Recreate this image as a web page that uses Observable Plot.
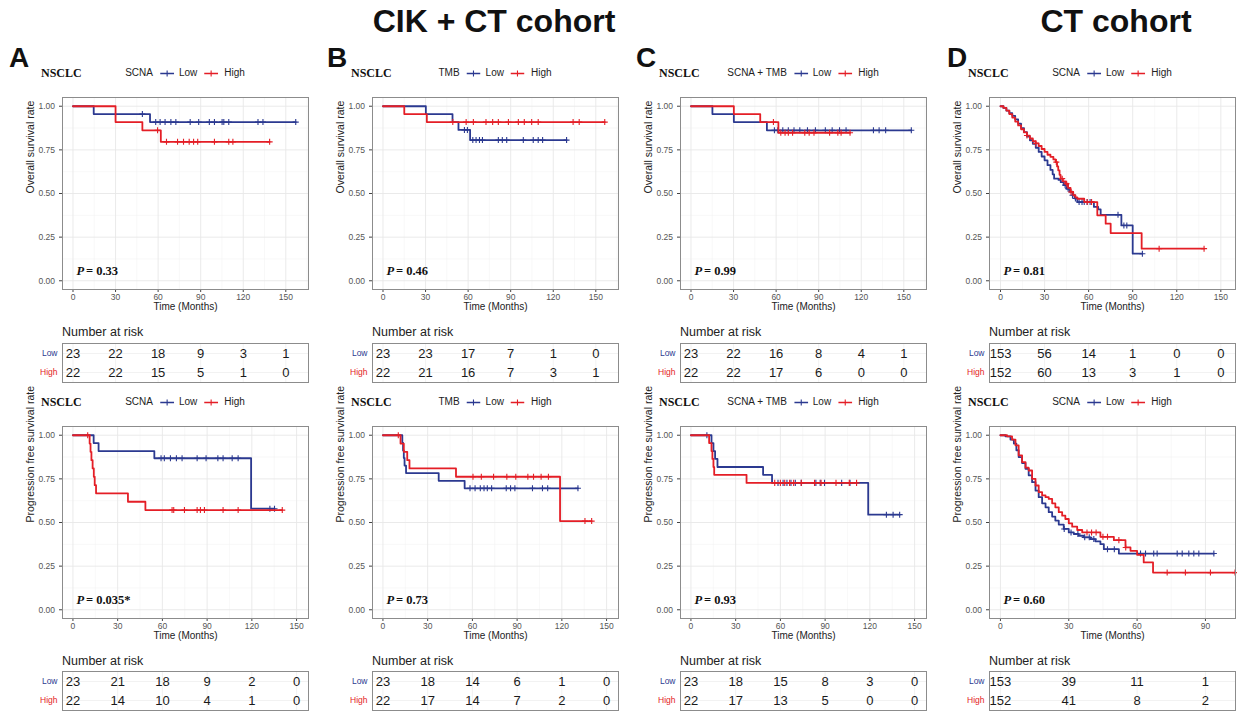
<!DOCTYPE html>
<html>
<head>
<meta charset="utf-8">
<script src="https://cdn.jsdelivr.net/npm/d3@7"></script>
<script src="https://cdn.jsdelivr.net/npm/@observablehq/plot@0.6"></script>
<style>
  html,body{margin:0;padding:0;background:#fff;}
  #root{position:relative;width:1237px;height:711px;overflow:hidden;background:#fff;font-family:"Liberation Sans",Arial,Helvetica,sans-serif;color:#1a1a1a;}
  .abs{position:absolute;white-space:nowrap;line-height:1;}
  .abs svg{display:block;}
</style>
</head>
<body>
<div id="root"></div>
<script>
// ---------------- DATA ----------------
const cohortTitles = ["CIK + CT cohort", "CT cohort"];
const panelLetters = ["A", "B", "C", "D"];
const diseaseLabel = "NSCLC";
const groupNames = ["SCNA", "TMB", "SCNA + TMB", "SCNA"];
const levelNames = ["Low", "High"];
const yTitles = ["Overall survival rate", "Progression free survival rate"];
const xTitle = "Time (Months)";
const riskTitle = "Number at risk";
const pOS = ["0.33", "0.46", "0.99", "0.81"];
const pPFS = ["0.035*", "0.73", "0.93", "0.60"];
const yTickValues = [0, 0.25, 0.5, 0.75, 1];
const xTickValues = [0, 30, 60, 90, 120, 150];
const xTickValuesShort = [0, 30, 60, 90];

// Panel A – overall survival (SCNA)
const A_os_low = [[0,1],[14.6,0.955],[54.3,0.909],[157,0.909]];
const A_os_low_cens = [48.9,58.3,61.4,64.9,69,72.5,82.6,88.6,96.1,99.7,105.1,106.3,109.8,130.4,133.9,157];
const A_os_high = [[0,1],[30,0.909],[48.9,0.862],[61.9,0.796],[138.6,0.796]];
const A_os_high_cens = [59.6,65.9,73.7,77.9,81.9,85,87.9,99.7,109.8,112.7,138.6];
const A_os_risk_low = [23,22,18,9,3,1];
const A_os_risk_high = [22,22,15,5,1,0];

// Panel B – overall survival (TMB)
const B_os_low = [[0,1],[30.2,0.955],[49,0.909],[53.2,0.864],[61.4,0.806],[129.4,0.806]];
const B_os_low_cens = [57.4,59.5,63.3,65.6,68,70.1,81.3,84.1,87.2,98.9,105.9,109.4,112.5,129.4];
const B_os_high = [[0,1],[15,0.955],[30.9,0.909],[156.3,0.909]];
const B_os_high_cens = [49.2,58.6,63.7,72.6,77.3,81.3,88.4,95.4,99.6,104.8,109.4,134,138.3,156.3];
const B_os_risk_low = [23,23,17,7,1,0];
const B_os_risk_high = [22,21,16,7,3,1];

// Panel C – overall survival (SCNA + TMB)
const C_os_low = [[0,1],[15.1,0.955],[30.2,0.909],[53.5,0.862],[155.3,0.862]];
const C_os_low_cens = [58.8,61.2,64.7,68.6,72.6,76.7,82.1,87.7,94.7,99.5,104.7,109.3,128.6,132.6,137.2,155.3];
const C_os_high = [[0,1],[30.2,0.955],[48.8,0.909],[61.6,0.848],[112.1,0.848]];
const C_os_high_cens = [58.1,63.3,66.3,68.6,71.6,80.2,83.3,86.7,97.7,103.5,105.8,112.1];
const C_os_risk_low = [23,22,16,8,4,1];
const C_os_risk_high = [22,22,17,6,0,0];

// Panel D – overall survival (CT cohort, SCNA)
const D_os_low = [[0,1],[2,0.99],[4,0.975],[6,0.96],[8,0.945],[10,0.925],[12,0.9],[14,0.875],[16,0.852],[18,0.826],[20,0.805],[22,0.785],[24,0.762],[26,0.738],[28,0.712],[30,0.69],[32,0.662],[34,0.635],[35.5,0.61],[36.5,0.585],[39.5,0.578],[41,0.565],[43,0.548],[45,0.527],[47,0.51],[49,0.49],[50.5,0.472],[52.3,0.451],[63.6,0.423],[66.5,0.409],[68.2,0.378],[82.3,0.317],[90,0.155],[96.6,0.155]];
const D_os_low_cens = [44,46,49,51,53.5,55.5,57,59,61,80,84,86,96.6];
const D_os_high = [[0,1],[2,0.99],[4,0.975],[6,0.955],[8,0.935],[10,0.912],[12,0.89],[14,0.868],[16,0.85],[18,0.832],[20,0.815],[22,0.8],[24,0.787],[26,0.772],[28,0.755],[30,0.738],[32,0.722],[34,0.71],[36,0.695],[37.5,0.68],[38.5,0.655],[39.3,0.633],[40.2,0.607],[40.9,0.585],[42.5,0.57],[44.3,0.556],[46,0.532],[47.7,0.509],[49.5,0.49],[51,0.478],[52.3,0.47],[57,0.451],[65.9,0.375],[71.6,0.327],[75,0.273],[96.1,0.184],[138.6,0.184]];
const D_os_high_cens = [18,24,38,42,45,48,59,62,108,138.6];
const D_os_risk_low = [153,56,14,1,0,0];
const D_os_risk_high = [152,60,13,3,1,0];

// Panel A – progression free survival (SCNA)
const A_pfs_low = [[0,1],[13.9,0.955],[17.2,0.909],[54.6,0.868],[119.5,0.579],[135.2,0.579]];
const A_pfs_low_cens = [59.1,61.3,65.4,69.4,73.2,83.3,89.3,97.2,100.7,106.8,110.8,132.1,135.2];
const A_pfs_high = [[0,1],[11.2,0.952],[11.8,0.905],[12.4,0.857],[13.2,0.81],[14,0.762],[14.6,0.714],[15.5,0.667],[36.9,0.619],[48.6,0.571],[140.4,0.571]];
const A_pfs_high_cens = [9.9,66.5,67.6,74.8,83.3,85.5,88.2,100.7,110.8,140.4];
const A_pfs_risk_low = [23,21,18,9,2,0];
const A_pfs_risk_high = [22,14,10,4,1,0];

// Panel B – progression free survival (TMB)
const B_pfs_low = [[0,1],[13,0.957],[13.5,0.913],[14,0.87],[14.5,0.826],[15.5,0.783],[37.4,0.739],[54.8,0.696],[130.8,0.696]];
const B_pfs_low_cens = [58.4,61.8,65.3,67.8,70,72.9,82.7,85.6,88.5,100.3,107,110.5,130.8];
const B_pfs_high = [[0,1],[11.8,0.952],[14,0.905],[16.3,0.857],[17.8,0.81],[49,0.762],[118.8,0.508],[140,0.508]];
const B_pfs_high_cens = [10.3,60.4,66,74.2,83.1,89.1,97.2,101,106.1,111,135.5,140];
const B_pfs_risk_low = [23,18,14,6,1,0];
const B_pfs_risk_high = [22,17,14,7,2,0];

// Panel C – progression free survival (SCNA + TMB)
const C_pfs_low = [[0,1],[13.8,0.955],[15.1,0.909],[16.2,0.864],[17.8,0.818],[48.4,0.773],[54.4,0.727],[118.9,0.545],[140,0.545]];
const C_pfs_low_cens = [10.7,58.4,61.8,64.4,67.1,70,74,83.8,86.7,89.6,101.1,106.7,131.1,135.6,140];
const C_pfs_high = [[0,1],[12.2,0.955],[13.8,0.909],[14.4,0.864],[15.1,0.818],[15.6,0.773],[37.3,0.727],[111.1,0.727]];
const C_pfs_high_cens = [56.2,60,62.9,66.2,68.9,74,82.9,87.3,97.3,106.2,111.1];
const C_pfs_risk_low = [23,18,15,8,3,0];
const C_pfs_risk_high = [22,17,13,5,0,0];

// Panel D – progression free survival (CT cohort, SCNA)
const D_pfs_low = [[0,1],[2.2,0.994],[4.4,0.975],[5.9,0.952],[7,0.914],[8,0.875],[9.5,0.841],[11,0.808],[12.4,0.77],[13.9,0.731],[15.4,0.683],[16.8,0.645],[18.3,0.61],[19.8,0.587],[21.2,0.559],[22.7,0.534],[24.1,0.511],[25.6,0.488],[27.8,0.463],[30,0.443],[32.2,0.434],[34.4,0.424],[36.6,0.415],[39.5,0.405],[41.7,0.392],[43.9,0.376],[45.4,0.347],[52,0.322],[93.7,0.322]];
const D_pfs_low_cens = [28,31,34,37,39,41,47,50,61.5,63.7,67.3,68.8,77.6,79.8,82.7,84.9,87.1,93.7];
const D_pfs_high = [[0,1],[2.9,0.994],[5.1,0.975],[6.6,0.942],[8,0.885],[9.5,0.846],[11,0.814],[12.4,0.798],[13.9,0.75],[15.4,0.712],[16.8,0.674],[18.3,0.655],[19.8,0.645],[21.2,0.635],[22.7,0.61],[24.1,0.587],[25.6,0.559],[27.1,0.539],[28.5,0.52],[30,0.495],[31.5,0.476],[33.7,0.457],[35.9,0.443],[43.9,0.418],[49.8,0.399],[54.9,0.357],[57.1,0.338],[60,0.315],[62.9,0.271],[67,0.213],[103,0.213]];
const D_pfs_high_cens = [38,40,42,45,47,52,55,73.2,81.2,92.2,103];
const D_pfs_risk_low = [153,39,11,1];
const D_pfs_risk_high = [152,41,8,2];

// ---------------- LAYOUT / STYLE ----------------
const BLUE = "#2B3990";
const RED = "#E41E26";
const COL_X = [0, 310, 618, 927];
const LETTER_X = [9, 327, 636, 947];
const ROW_DY = [0, 329];

const panels = [
  {row:0,col:0,low:A_os_low,high:A_os_high,lowC:A_os_low_cens,highC:A_os_high_cens,rLow:A_os_risk_low,rHigh:A_os_risk_high,ticks:xTickValues,xDomain:[-7.4,166],p:pOS[0]},
  {row:0,col:1,low:B_os_low,high:B_os_high,lowC:B_os_low_cens,highC:B_os_high_cens,rLow:B_os_risk_low,rHigh:B_os_risk_high,ticks:xTickValues,xDomain:[-7.4,166],p:pOS[1]},
  {row:0,col:2,low:C_os_low,high:C_os_high,lowC:C_os_low_cens,highC:C_os_high_cens,rLow:C_os_risk_low,rHigh:C_os_risk_high,ticks:xTickValues,xDomain:[-7.4,166],p:pOS[2]},
  {row:0,col:3,low:D_os_low,high:D_os_high,lowC:D_os_low_cens,highC:D_os_high_cens,rLow:D_os_risk_low,rHigh:D_os_risk_high,ticks:xTickValues,xDomain:[-7.5,160],p:pOS[3]},
  {row:1,col:0,low:A_pfs_low,high:A_pfs_high,lowC:A_pfs_low_cens,highC:A_pfs_high_cens,rLow:A_pfs_risk_low,rHigh:A_pfs_risk_high,ticks:xTickValues,xDomain:[-7,158],p:pPFS[0]},
  {row:1,col:1,low:B_pfs_low,high:B_pfs_high,lowC:B_pfs_low_cens,highC:B_pfs_high_cens,rLow:B_pfs_risk_low,rHigh:B_pfs_risk_high,ticks:xTickValues,xDomain:[-7,158],p:pPFS[1]},
  {row:1,col:2,low:C_pfs_low,high:C_pfs_high,lowC:C_pfs_low_cens,highC:C_pfs_high_cens,rLow:C_pfs_risk_low,rHigh:C_pfs_risk_high,ticks:xTickValues,xDomain:[-7,158],p:pPFS[2]},
  {row:1,col:3,low:D_pfs_low,high:D_pfs_high,lowC:D_pfs_low_cens,highC:D_pfs_high_cens,rLow:D_pfs_risk_low,rHigh:D_pfs_risk_high,ticks:xTickValuesShort,xDomain:[-4.8,103.2],p:pPFS[3]}
];

const SANS = '"Liberation Sans", Arial, Helvetica, sans-serif';
const SERIF = '"Liberation Serif", "Times New Roman", serif';

const plusSymbol = {
  draw(ctx, size) {
    const r = Math.sqrt(size) / 2;
    ctx.moveTo(-r, 0); ctx.lineTo(r, 0);
    ctx.moveTo(0, -r); ctx.lineTo(0, r);
  }
};

function survAt(steps, t) {
  let s = 1;
  for (const [tt, v] of steps) if (tt <= t) s = v;
  return s;
}

function kmPlot(spec) {
  const [d0, d1] = spec.xDomain;
  const ticks = spec.ticks;
  const stepW = ticks[1] - ticks[0];
  const minorX = [];
  for (let v = ticks[0] - stepW / 2; v <= d1; v += stepW) if (v >= d0) minorX.push(v);
  const minorY = [0.125, 0.375, 0.625, 0.875];
  const rows = arr => arr.map(([t, s]) => ({t, s}));
  const cens = (steps, times) => times.map(t => ({t, s: survAt(steps, t)}));
  const pStyle = {frameAnchor: "bottom-left", dy: -15, textAnchor: "start", fontFamily: SERIF, fontWeight: "bold", fontSize: 12.5, fill: "#111"};
  return Plot.plot({
    width: 310, height: 235,
    marginLeft: 62, marginRight: 2, marginTop: 12, marginBottom: 31,
    x: {domain: spec.xDomain},
    y: {domain: [-0.05, 1.05]},
    style: {fontFamily: SANS, fontSize: "8.5px", background: "transparent", overflow: "visible"},
    marks: [
      Plot.ruleX(minorX, {stroke: "#f3f3f3", strokeWidth: 0.6}),
      Plot.ruleY(minorY, {stroke: "#f3f3f3", strokeWidth: 0.6}),
      Plot.ruleX(ticks, {stroke: "#e8e8e8", strokeWidth: 0.9}),
      Plot.ruleY(yTickValues, {stroke: "#e8e8e8", strokeWidth: 0.9}),
      Plot.axisY(yTickValues, {tickFormat: d3.format(".2f"), tickSize: 3, tickPadding: 4.5, fontSize: 8.5, fill: "#555", stroke: "#444", label: null}),
      Plot.axisX(ticks, {tickFormat: d => String(d), tickSize: 3, tickPadding: 1.5, fontSize: 8.5, fill: "#555", stroke: "#444", label: null}),
      Plot.line(rows(spec.low), {x: "t", y: "s", curve: "step-after", stroke: BLUE, strokeWidth: 1.8}),
      Plot.dot(cens(spec.low, spec.lowC), {x: "t", y: "s", symbol: plusSymbol, r: 3.4, stroke: BLUE, strokeWidth: 1.1, fill: "none"}),
      Plot.line(rows(spec.high), {x: "t", y: "s", curve: "step-after", stroke: RED, strokeWidth: 1.8}),
      Plot.dot(cens(spec.high, spec.highC), {x: "t", y: "s", symbol: plusSymbol, r: 3.4, stroke: RED, strokeWidth: 1.1, fill: "none"}),
      Plot.frame({stroke: "#8c8c8c", strokeWidth: 1}),
      Plot.text(["P"], {...pStyle, dx: 14, fontStyle: "italic"}),
      Plot.text(["= " + spec.p], {...pStyle, dx: 23.5}),
      Plot.text([yTitles[spec.row]], {frameAnchor: "left", dx: -32, rotate: -90, fontSize: 10.5, fill: "#222"}),
      Plot.text([xTitle], {frameAnchor: "bottom", dy: 20, fontSize: 10, fill: "#222"})
    ]
  });
}

function riskPlot(spec) {
  const isTop = spec.row === 0;
  const times = spec.ticks;
  const data = [];
  times.forEach((t, i) => {
    data.push({t, g: levelNames[0], n: spec.rLow[i]});
    data.push({t, g: levelNames[1], n: spec.rHigh[i]});
  });
  return Plot.plot({
    width: 310, height: isTop ? 45 : 42,
    marginLeft: 62, marginRight: 2, marginTop: isTop ? 3 : 2, marginBottom: isTop ? 3 : 1,
    x: {domain: spec.xDomain, axis: null},
    y: {domain: levelNames, type: "point", padding: 0.5, axis: null},
    style: {fontFamily: SANS, background: "transparent", overflow: "visible"},
    marks: [
      Plot.ruleX(times, {stroke: "#efefef", strokeWidth: 0.8}),
      Plot.ruleY(levelNames, {y: d => d, stroke: "#efefef", strokeWidth: 0.8}),
      Plot.text(data, {x: "t", y: "g", text: d => String(d.n), fontSize: 13, fill: "#1a1a1a"}),
      Plot.text([levelNames[0]], {y: d => d, frameAnchor: "left", dx: -5, textAnchor: "end", fill: BLUE, fontSize: 8.5}),
      Plot.text([levelNames[1]], {y: d => d, frameAnchor: "left", dx: -5, textAnchor: "end", fill: RED, fontSize: 8.5}),
      Plot.frame({stroke: "#8c8c8c", strokeWidth: 1})
    ]
  });
}

// ---------------- RENDER ----------------
const root = document.getElementById("root");
function addDiv(html, style) {
  const d = document.createElement("div");
  d.className = "abs";
  d.innerHTML = html;
  Object.assign(d.style, style);
  root.appendChild(d);
  return d;
}
function addNode(node, left, top) {
  node.style.position = "absolute";
  node.style.left = left + "px";
  node.style.top = top + "px";
  root.appendChild(node);
}
function swatch(color) {
  return `<svg width="14" height="9"><line x1="0" y1="4.5" x2="14" y2="4.5" stroke="${color}" stroke-width="1.6"/><line x1="7" y1="1.5" x2="7" y2="7.5" stroke="${color}" stroke-width="1.1"/></svg>`;
}

// cohort titles
addDiv(cohortTitles[0], {left: "494px", top: "5px", transform: "translateX(-50%)", fontSize: "32px", fontWeight: "bold", color: "#111"});
addDiv(cohortTitles[1], {left: "1116px", top: "5px", transform: "translateX(-50%)", fontSize: "32px", fontWeight: "bold", color: "#111"});

// panel letters
panelLetters.forEach((L, i) => {
  addDiv(L, {left: LETTER_X[i] + "px", top: "44px", fontSize: "28px", fontWeight: "bold", color: "#111"});
});

panels.forEach(spec => {
  const ox = COL_X[spec.col];
  const dy = ROW_DY[spec.row];
  addDiv(diseaseLabel, {left: (ox + 41) + "px", top: (67 + dy) + "px", fontFamily: SERIF, fontWeight: "bold", fontSize: "12px", color: "#111"});
  addDiv(
    `<span>${groupNames[spec.col]}</span><span style="margin:0 5px 0 7px">${swatch(BLUE)}</span><span>${levelNames[0]}</span><span style="margin:0 6px 0 7px">${swatch(RED)}</span><span>${levelNames[1]}</span>`,
    {left: (ox + 185) + "px", top: (67 + dy) + "px", height: "12px", transform: "translateX(-50%)", display: "flex", alignItems: "center", fontSize: "10px", color: "#222"}
  );
  addNode(kmPlot(spec), ox, 85 + dy);
  addDiv(riskTitle, {left: (ox + 62) + "px", top: (spec.row === 0 ? 326 : 655) + "px", fontSize: "12.5px", color: "#222"});
  addNode(riskPlot(spec), ox, spec.row === 0 ? 340 : 669);
});
</script>
</body>
</html>
